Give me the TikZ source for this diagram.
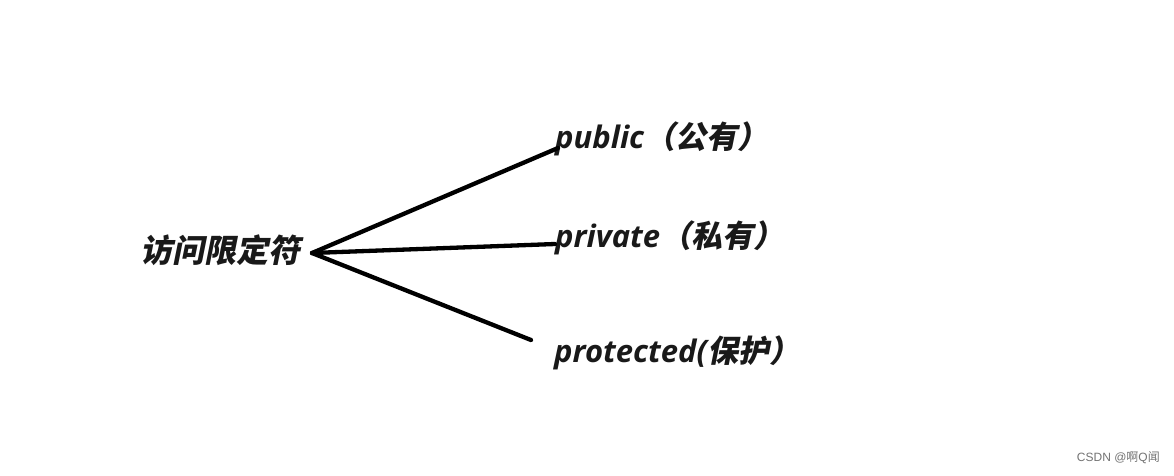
\documentclass[tikz,border=0pt]{standalone}
\usepackage{fontspec}
\newfontfamily\cjkb{Noto Sans CJK SC}[FakeSlant=0.2]
\newfontfamily\latb{Open Sans}
\newfontfamily\wmcjk{Noto Sans CJK SC}
\newfontfamily\wmlat{Liberation Sans}
\newcommand{\Lt}[1]{{\latb\bfseries\itshape #1}}
\newcommand{\Ck}[1]{{\cjkb\bfseries #1}}
\begin{document}
\begin{tikzpicture}[x=1pt,y=-1pt,
  lab/.style={anchor=west,inner sep=0pt,text=black!90,font=\fontsize{31}{36}\selectfont},
  conn/.style={line width=4.3pt,line cap=round,black}]
\path[use as bounding box,fill=white] (0,0) rectangle (1174,475);
\node[lab,font=\fontsize{32}{38}\selectfont] (root) at (140,250) {\Ck{访问限定符}};
\node[lab] (pub) at (555,139) {\Lt{public}\Ck{（公有）}};
\node[lab] (pri) at (555,238) {\Lt{private}\Ck{（私有）}};
\node[lab] (pro) at (554,353) {\Lt{protected(}\Ck{保护）}};
\coordinate (hub) at (312,253);
\coordinate (e1) at (558,148);
\coordinate (e2) at (555,244);
\coordinate (e3) at (531,340);
\draw[conn] (hub) -- (e1);
\draw[conn] (hub) -- (e2);
\draw[conn] (hub) -- (e3);
\node[anchor=east,inner sep=0pt,text=black!55,font=\fontsize{12}{14}\selectfont] (wm) at (1160,458) {\wmlat CSDN @\wmcjk 啊\wmlat Q\wmcjk 闻};
\end{tikzpicture}
\end{document}
